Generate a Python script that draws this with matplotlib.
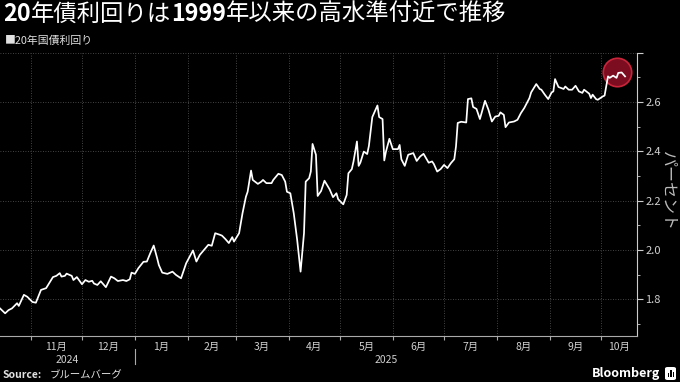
import numpy as np
import pandas as pd
import matplotlib
matplotlib.use("Agg")
import matplotlib.pyplot as plt
import matplotlib.dates as mdates
import matplotlib.transforms as mtransforms
from matplotlib.patches import FancyBboxPatch, Rectangle

plt.rcParams['font.family'] = ['Noto Sans CJK JP', 'DejaVu Sans']

# 20年国債利回り (%)
dates = [
    "2024-10-14", "2024-10-17", "2024-10-19", "2024-10-21", "2024-10-24", "2024-10-25", "2024-10-28", "2024-10-30",
    "2024-11-02", "2024-11-04", "2024-11-07", "2024-11-10", "2024-11-14", "2024-11-16", "2024-11-18", "2024-11-19",
    "2024-11-21", "2024-11-22", "2024-11-25", "2024-11-26", "2024-11-28",
    "2024-12-01", "2024-12-03", "2024-12-05", "2024-12-07", "2024-12-08", "2024-12-10", "2024-12-12", "2024-12-15",
    "2024-12-18", "2024-12-20", "2024-12-22", "2024-12-25", "2024-12-27", "2024-12-29", "2024-12-30",
    "2025-01-01", "2025-01-03", "2025-01-06", "2025-01-08", "2025-01-10", "2025-01-12", "2025-01-14", "2025-01-15",
    "2025-01-17", "2025-01-20", "2025-01-23", "2025-01-25", "2025-01-28", "2025-01-31",
    "2025-02-04", "2025-02-06", "2025-02-08", "2025-02-13", "2025-02-15", "2025-02-17", "2025-02-20", "2025-02-21",
    "2025-02-23", "2025-02-25", "2025-02-27", "2025-02-28",
    "2025-03-03", "2025-03-05", "2025-03-07", "2025-03-08", "2025-03-10", "2025-03-11", "2025-03-14", "2025-03-16",
    "2025-03-17", "2025-03-19", "2025-03-22", "2025-03-23", "2025-03-26", "2025-03-28", "2025-03-30", "2025-03-31",
    "2025-04-02", "2025-04-04", "2025-04-06", "2025-04-08", "2025-04-10", "2025-04-11", "2025-04-13", "2025-04-14",
    "2025-04-15", "2025-04-17", "2025-04-18", "2025-04-20", "2025-04-22", "2025-04-25", "2025-04-27", "2025-04-29",
    "2025-04-30",
    "2025-05-03", "2025-05-05", "2025-05-06", "2025-05-08", "2025-05-09", "2025-05-11", "2025-05-12", "2025-05-13",
    "2025-05-15", "2025-05-17", "2025-05-18", "2025-05-20", "2025-05-23", "2025-05-24", "2025-05-26", "2025-05-27",
    "2025-05-28", "2025-05-30",
    "2025-06-01", "2025-06-04", "2025-06-05", "2025-06-06", "2025-06-08", "2025-06-10", "2025-06-13", "2025-06-15",
    "2025-06-17", "2025-06-19", "2025-06-22", "2025-06-24", "2025-06-25", "2025-06-27", "2025-06-29",
    "2025-07-01", "2025-07-03", "2025-07-05", "2025-07-07", "2025-07-08", "2025-07-09", "2025-07-11", "2025-07-14",
    "2025-07-15", "2025-07-17", "2025-07-18", "2025-07-20", "2025-07-22", "2025-07-25", "2025-07-27", "2025-07-29",
    "2025-07-31",
    "2025-08-02", "2025-08-03", "2025-08-05", "2025-08-06", "2025-08-08", "2025-08-11", "2025-08-13", "2025-08-15",
    "2025-08-17", "2025-08-20", "2025-08-21", "2025-08-24", "2025-08-26", "2025-08-27", "2025-08-29", "2025-08-31",
    "2025-09-02", "2025-09-03", "2025-09-04", "2025-09-06", "2025-09-09", "2025-09-10", "2025-09-12", "2025-09-14",
    "2025-09-16", "2025-09-18", "2025-09-20", "2025-09-21", "2025-09-24", "2025-09-25", "2025-09-26", "2025-09-28",
    "2025-09-29",
    "2025-10-02", "2025-10-03", "2025-10-05", "2025-10-06", "2025-10-08", "2025-10-10", "2025-10-11", "2025-10-13",
    "2025-10-15",
]
yields = [
    1.763, 1.743, 1.756, 1.763, 1.784, 1.773, 1.818, 1.810,
    1.789, 1.786, 1.838, 1.845, 1.890, 1.895, 1.906, 1.892,
    1.895, 1.904, 1.895, 1.878, 1.890,
    1.861, 1.878, 1.871, 1.875, 1.864, 1.858, 1.873, 1.849,
    1.892, 1.885, 1.874, 1.878, 1.874, 1.881, 1.908,
    1.903, 1.926, 1.952, 1.953, 1.987, 2.018, 1.967, 1.939,
    1.908, 1.903, 1.912, 1.899, 1.885, 1.946,
    1.998, 1.953, 1.980, 2.021, 2.017, 2.068, 2.061, 2.058,
    2.044, 2.028, 2.052, 2.034,
    2.068, 2.149, 2.216, 2.236, 2.322, 2.284, 2.268, 2.277,
    2.284, 2.271, 2.271, 2.284, 2.309, 2.304, 2.277, 2.236,
    2.230, 2.149, 2.041, 1.912, 2.068, 2.277, 2.291, 2.318,
    2.430, 2.386, 2.219, 2.239, 2.281, 2.246, 2.214, 2.230,
    2.206,
    2.185, 2.223, 2.311, 2.328, 2.359, 2.440, 2.341, 2.354,
    2.399, 2.389, 2.422, 2.539, 2.586, 2.539, 2.531, 2.363,
    2.399, 2.451,
    2.409, 2.409, 2.426, 2.368, 2.341, 2.386, 2.393, 2.361,
    2.379, 2.390, 2.354, 2.359, 2.349, 2.318, 2.328,
    2.345, 2.332, 2.352, 2.368, 2.420, 2.515, 2.520, 2.517,
    2.612, 2.615, 2.580, 2.572, 2.531, 2.605, 2.569, 2.521,
    2.541,
    2.544, 2.558, 2.548, 2.498, 2.517, 2.521, 2.528, 2.555,
    2.576, 2.616, 2.639, 2.673, 2.653, 2.650, 2.630, 2.612,
    2.639, 2.643, 2.693, 2.661, 2.653, 2.663, 2.650, 2.650,
    2.666, 2.643, 2.637, 2.650, 2.634, 2.616, 2.630, 2.612,
    2.609,
    2.623, 2.626, 2.704, 2.698, 2.707, 2.698, 2.718, 2.720,
    2.704,
]

# title pieces: digits bold, kana/kanji regular
title_parts = ["20", "年債利回りは", "1999", "年以来の高水準付近で推移"]
title_bold = [True, False, True, False]
series_name = "20年国債利回り"
month_labels = ["11月", "12月", "1月", "2月", "3月", "4月", "5月", "6月", "7月", "8月", "9月", "10月"]
year_labels = ["2024", "2025"]
y_ticks = [1.8, 2.0, 2.2, 2.4, 2.6, 2.8]
x_start, x_end = pd.Timestamp("2024-10-14"), pd.Timestamp("2025-10-22")

dt = pd.to_datetime(dates)
bg = "#000000"
fg = "#d0d0d0"

fig = plt.figure(figsize=(6.8, 3.82), dpi=100, facecolor=bg)
ax = fig.add_axes([0.0, 0.1204, 0.9368, 0.7416], facecolor=bg)

ax.plot(dt, yields, color="white", lw=1.25, solid_joinstyle="round", zorder=3)

# highlight of the latest week
last = dt[-7:]
cx = last[0] + (last[-1] - last[0]) / 2
ax.scatter([cx], [max(yields[-7:])], s=420, facecolor="#8a0f24", edgecolor="#d8283f",
           linewidth=1.2, alpha=0.9, zorder=2)

ax.set_xlim(x_start, x_end)
ax.set_ylim(1.651, 2.80)

# months: gridlines at month start, labels centred on each visible month
month_starts = pd.date_range("2024-11-01", "2025-10-01", freq="MS")
edges = list(month_starts) + [x_end]
mids = [edges[i] + (edges[i + 1] - edges[i]) / 2 for i in range(len(month_starts))]
ax.set_xticks(mdates.date2num(month_starts))
ax.set_xticklabels([])
ax.set_xticks(mdates.date2num(mids), minor=True)
ax.set_xticklabels(month_labels, minor=True)
ax.tick_params(axis="x", which="major", length=3, color="#aaaaaa", direction="out")
ax.tick_params(axis="x", which="minor", length=0, pad=4.5, labelsize=7.5, labelcolor=fg)

ax.yaxis.tick_right()
ax.set_yticks(y_ticks)
ax.set_yticklabels(["1.8", "2.0", "2.2", "2.4", "2.6", ""])
ax.set_yticks(np.arange(1.7, 2.8, 0.2), minor=True)
ax.tick_params(axis="y", which="major", length=4, color="#cccccc", pad=2, labelsize=8, labelcolor=fg)
ax.tick_params(axis="y", which="minor", length=2.5, color="#cccccc")

ax.grid(True, which="major", color="#5a5a5a", linestyle=(0, (1, 2)), linewidth=0.6)
for s in ["top", "left"]:
    ax.spines[s].set_visible(False)
ax.spines["right"].set_color("#cccccc")
ax.spines["bottom"].set_color("#aaaaaa")

# year row and separator
trans = mtransforms.blended_transform_factory(ax.transData, ax.transAxes)
jan1 = mdates.date2num(pd.Timestamp("2025-01-01"))
ax.plot([jan1, jan1], [-0.046, -0.10], transform=trans, color="#aaaaaa", lw=0.8, clip_on=False)
x0n, x1n = mdates.date2num(x_start), mdates.date2num(x_end)
ax.text((x0n + jan1) / 2, -0.083, year_labels[0], transform=trans, ha="center", va="center",
        fontsize=7.5, color=fg)
ax.text((jan1 + x1n) / 2, -0.083, year_labels[1], transform=trans, ha="center", va="center",
        fontsize=7.5, color=fg)

fig.text(668 / 680, 1 - 191 / 382, "パーセント", rotation=270, ha="center", va="center",
         fontsize=11.5, color="#bbbbbb")

# title drawn piece by piece
renderer = fig.canvas.get_renderer()
xpos = 3 / 680
for part, b in zip(title_parts, title_bold):
    t = fig.text(xpos, 1 - 14 / 382, part, ha="left", va="center", fontsize=16.8,
                 fontweight="bold" if b else "normal", color="white")
    bb = t.get_window_extent(renderer=renderer)
    xpos = bb.x1 / fig.bbox.width

fig.text(5 / 680, 1 - 41 / 382, "■" + series_name, ha="left", va="center", fontsize=7.8,
         color="#e0e0e0")

fig.text(3 / 680, 1 - 375 / 382, "Source:", ha="left", va="center", fontsize=7.5,
         fontweight="bold", color="#e0e0e0")
fig.text(50 / 680, 1 - 375 / 382, "ブルームバーグ", ha="left", va="center", fontsize=7.5,
         color="#e0e0e0", style="italic")
fig.text(660 / 680, 1 - 374 / 382, "Bloomberg", ha="right", va="center", fontsize=9,
         fontweight="bold", color="white")
logo = FancyBboxPatch((665 / 680, 2 / 382), 11 / 680, 13 / 382, boxstyle="round,pad=0,rounding_size=0.004",
                      transform=fig.transFigure, facecolor="white", edgecolor="none")
fig.patches.append(logo)
for i, h in enumerate([4, 7, 5]):
    fig.patches.append(Rectangle(((667.5 + i * 2.6) / 680, 5 / 382), 1.4 / 680, h / 382,
                                 transform=fig.transFigure, facecolor="black", edgecolor="none"))

fig.savefig("out.png", dpi=100, facecolor=bg)
